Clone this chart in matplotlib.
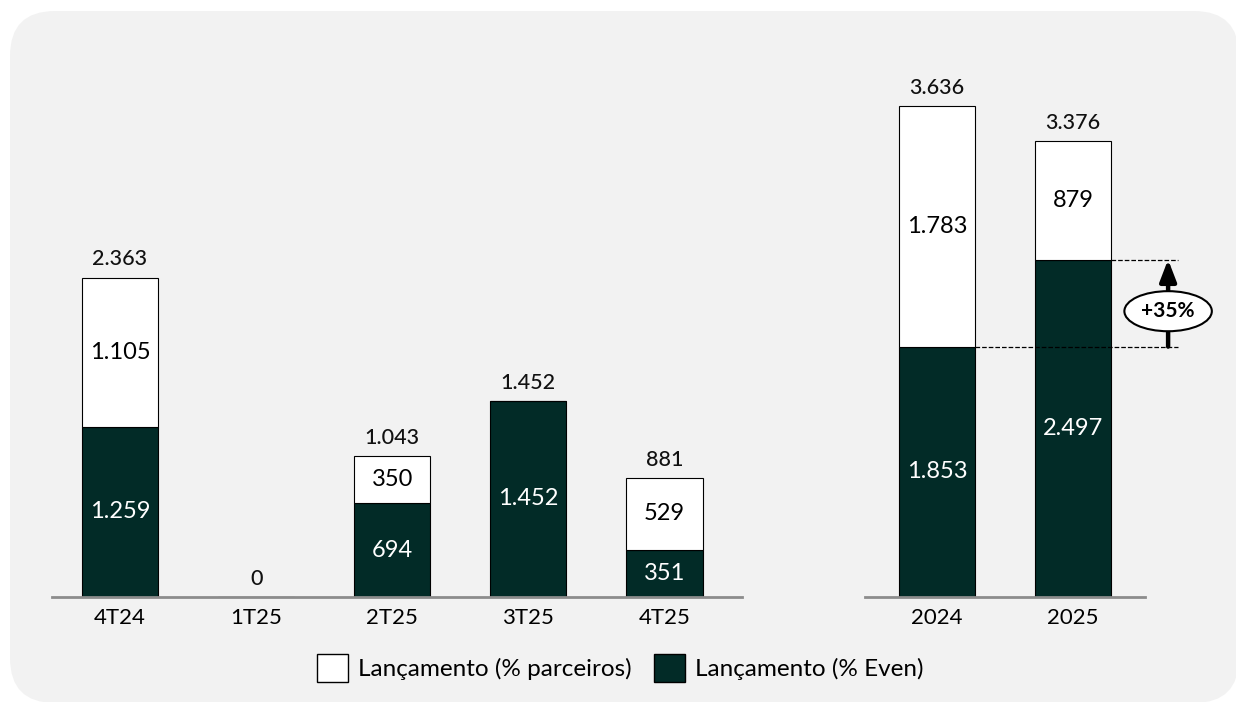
import matplotlib
matplotlib.use("Agg")
from matplotlib import pyplot as plt
from matplotlib.patches import FancyBboxPatch, Patch

plt.rcParams['font.family'] = ['Lato', 'DejaVu Sans']

# data
quarters = ['4T24', '1T25', '2T25', '3T25', '4T25']
q_even = [1259, 0, 694, 1452, 351]
q_partners = [1105, 0, 350, 0, 529]
q_totals = ['2.363', '0', '1.043', '1.452', '881']

years = ['2024', '2025']
y_even = [1853, 2497]
y_partners = [1783, 879]
y_totals = ['3.636', '3.376']

growth_label = '+35%'

DARK = '#022b27'
PANEL = '#f2f2f2'
W, H = 1236, 702


def fmt(v):
    return '{:,}'.format(v).replace(',', '.')


def draw_bars(ax, cats, even, partners, totals):
    x = list(range(len(cats)))
    ax.bar(x, even, width=0.56, color=DARK, edgecolor='black', linewidth=0.8, zorder=2)
    ax.bar(x, partners, bottom=even, width=0.56, color='white', edgecolor='black',
           linewidth=0.8, zorder=2)
    for i in x:
        top = even[i] + partners[i]
        if even[i] > 0:
            ax.text(i, even[i] / 2, fmt(even[i]), color='white', ha='center', va='center',
                    fontsize=17, zorder=4)
        if partners[i] > 0:
            ax.text(i, even[i] + partners[i] / 2, fmt(partners[i]), color='black',
                    ha='center', va='center', fontsize=17, zorder=4)
        ax.text(i, top + 60, totals[i], ha='center', va='bottom', fontsize=15.5,
                fontweight='medium', color='#111111', zorder=4)
    ax.set_xticks(x)
    ax.set_xticklabels(cats, fontsize=16)
    ax.set_ylim(0, 4270)
    ax.set_yticks([])
    for s in ['top', 'right', 'left']:
        ax.spines[s].set_visible(False)
    ax.spines['bottom'].set_color('#8c8c8c')
    ax.spines['bottom'].set_linewidth(2)
    ax.spines['bottom'].set_zorder(3)
    ax.tick_params(axis='x', length=0, pad=8)
    ax.patch.set_alpha(0)


fig = plt.figure(figsize=(W / 100, H / 100), dpi=100)
fig.patch.set_facecolor('white')

# rounded grey panel, in pixel units
bg = fig.add_axes([0, 0, 1, 1], zorder=-1)
bg.set_xlim(0, W)
bg.set_ylim(H, 0)
bg.axis('off')
bg.add_patch(FancyBboxPatch((10, 11), 1229, 692,
                            boxstyle='round,pad=0,rounding_size=45',
                            facecolor=PANEL, edgecolor='none'))

base = (H - 597) / H
height = 577 / H

ax1 = fig.add_axes([52 / W, base, 690 / W, height])
draw_bars(ax1, quarters, q_even, q_partners, q_totals)
ax1.set_xlim(-0.5, 4.57)

ax2 = fig.add_axes([865 / W, base, 280 / W, height])
draw_bars(ax2, years, y_even, y_partners, y_totals)
ax2.set_xlim(-0.53, 1.53)

# growth annotation
xr = 1.77
ax2.plot([0.28, xr], [y_even[0], y_even[0]], ls='--', color='black', lw=0.9,
         clip_on=False, zorder=2)
ax2.plot([1.28, xr], [y_even[1], y_even[1]], ls='--', color='black', lw=0.9,
         clip_on=False, zorder=2)
xa = 1.7
ax2.annotate('', xy=(xa, y_even[1]), xytext=(xa, y_even[0]),
             arrowprops=dict(arrowstyle='-|>,head_width=0.5,head_length=1.3',
                             color='black', lw=3.2, shrinkA=0, shrinkB=0),
             annotation_clip=False, zorder=5)
ax2.text(xa, (y_even[0] + y_even[1]) / 2 - 60, growth_label, ha='center', va='center',
         fontsize=15, fontweight='bold', zorder=6,
         bbox=dict(boxstyle='ellipse,pad=0.2', facecolor='white', edgecolor='black', lw=1.5))

# legend
handles = [Patch(facecolor='white', edgecolor='black', label='Lançamento (% parceiros)'),
           Patch(facecolor=DARK, edgecolor='black', label='Lançamento (% Even)')]
fig.legend(handles=handles, loc='center', bbox_to_anchor=(620 / W, 1 - 668 / H), ncol=2,
           frameon=False, fontsize=17.5, handlelength=1.3, handleheight=1.4,
           handletextpad=0.4, columnspacing=0.9)

fig.savefig('out.png', dpi=100)
